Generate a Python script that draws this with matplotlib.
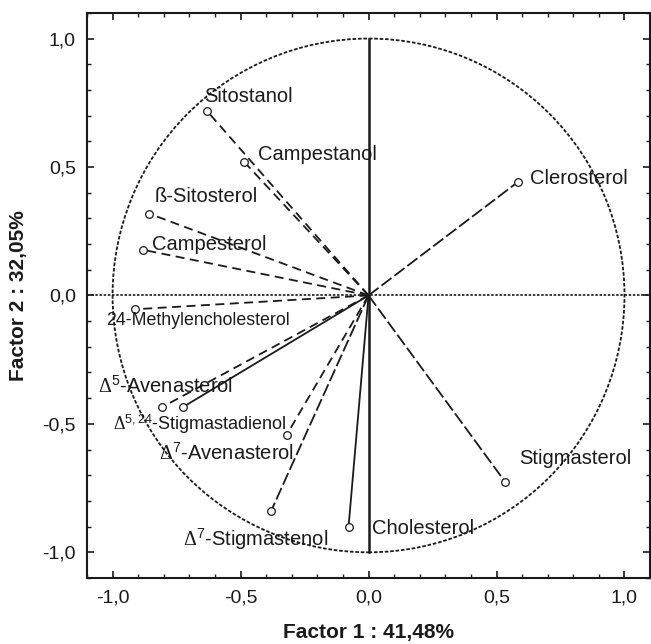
import matplotlib
matplotlib.use('Agg')
import matplotlib.pyplot as plt
import matplotlib.patches as mpatches
from matplotlib.ticker import MultipleLocator, FuncFormatter

plt.rcParams['font.family'] = ['Liberation Sans', 'DejaVu Sans']
plt.rcParams['mathtext.fontset'] = 'custom'
plt.rcParams['mathtext.rm'] = 'Liberation Serif'
plt.rcParams['mathtext.it'] = 'Liberation Serif:italic'
plt.rcParams['mathtext.sf'] = 'Liberation Sans'

# sterol names and factor loadings (factor 1, factor 2)
names = ['Sitostanol', 'Campestanol', 'ß-Sitosterol', 'Campesterol',
         '24-Methylencholesterol', r'$\Delta^{\mathsf{5}}$-Avenasterol',
         r'$\Delta^{\mathsf{5,24}}$-Stigmastadienol', r'$\Delta^{\mathsf{7}}$-Avenasterol',
         r'$\Delta^{\mathsf{7}}$-Stigmastenol', 'Cholesterol', 'Stigmasterol', 'Clerosterol']
f1 = [-0.63, -0.486, -0.856, -0.883, -0.914, -0.805, -0.724, -0.32, -0.381, -0.078, 0.533, 0.584]
f2 = [0.717, 0.52, 0.318, 0.178, -0.054, -0.434, -0.434, -0.543, -0.84, -0.90, -0.725, 0.442]
# where the label starts
lab_x = [-0.642, -0.432, -0.837, -0.844, -1.027, -1.058, -1.0, -0.817, -0.724, 0.012, 0.588, 0.63]
lab_y = [0.775, 0.547, 0.384, 0.198, -0.097, -0.353, -0.50, -0.616, -0.95, -0.907, -0.636, 0.457]
styles = [(0, (5, 3)), (0, (5, 3)), (0, (5, 3)), (0, (5, 3)), (0, (5, 3)), (0, (5, 3)),
          '-', (0, (5, 3)), (0, (7, 2)), '-', (0, (7, 2)), (0, (7, 2))]
sizes = [14.5, 14.5, 14.5, 14.5, 12.8, 14.5, 13, 14.5, 14.5, 14.5, 14.5, 14.5]

fig = plt.figure(figsize=(6.51, 6.44), dpi=100)
ax = fig.add_axes([0.1336, 0.1025, 0.865, 0.8775])

ax.set_xlim(-1.1, 1.1)
ax.set_ylim(-1.1, 1.1)

circle = mpatches.Circle((0, 0), 1.0, fill=False, color='#1a1a1a', lw=1.3, ls=(0, (2, 1)))
ax.add_patch(circle)
ax.plot([-1.1, 1.1], [0, 0], color='#1a1a1a', lw=1.2, ls=(0, (1.5, 1)))
ax.plot([0, 0], [-1, 1], color='#1a1a1a', lw=1.8)

for i in range(len(names)):
    ax.plot([0, f1[i]], [0, f2[i]], color='#1a1a1a', lw=1.3, ls=styles[i])
    ax.plot(f1[i], f2[i], 'o', mfc='white', mec='#1a1a1a', ms=5.5, mew=0.9)
    ax.text(lab_x[i], lab_y[i], names[i], fontsize=sizes[i], ha='left', va='center', color='#1a1a1a')

ax.xaxis.set_major_locator(MultipleLocator(0.5))
ax.yaxis.set_major_locator(MultipleLocator(0.5))
ax.xaxis.set_minor_locator(MultipleLocator(0.1))
ax.yaxis.set_minor_locator(MultipleLocator(0.1))
fmt = FuncFormatter(lambda v, p: ('%.1f' % v).replace('.', ','))
ax.xaxis.set_major_formatter(fmt)
ax.yaxis.set_major_formatter(fmt)
ax.tick_params(which='both', direction='in', top=True, right=True, labelsize=14, colors='#1a1a1a')
ax.tick_params(which='major', length=5, width=1.2)
ax.tick_params(which='minor', length=3, width=1)
ax.tick_params(axis='x', pad=8)
ax.tick_params(axis='y', pad=8)
for s in ax.spines.values():
    s.set_linewidth(1.5)
    s.set_color('#1a1a1a')

ax.set_xlabel('Factor 1 : 41,48%', fontsize=15, fontweight='bold', labelpad=12, color='#1a1a1a')
ax.set_ylabel('Factor 2 : 32,05%', fontsize=15, fontweight='bold', labelpad=10, color='#1a1a1a')

fig.savefig('out.png', dpi=100)
